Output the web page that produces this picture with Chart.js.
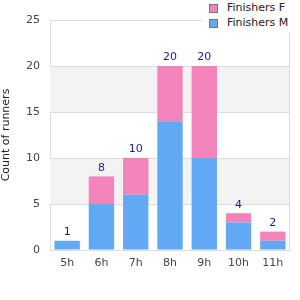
<!DOCTYPE html>
<html><head><meta charset="utf-8">
<script src="https://cdn.jsdelivr.net/npm/chart.js@4"></script>
<style>
html,body{margin:0;padding:0;background:#fff;}
#wrap{position:relative;width:300px;height:300px;}
#legend{position:absolute;left:202px;top:0;width:98px;height:33px;background:#fff;font-family:"DejaVu Sans";font-size:11px;color:#222;}
.item{position:absolute;left:7px;height:14px;line-height:14px;white-space:nowrap;}
.sw{position:absolute;left:0;top:3px;width:7px;height:7px;border:1px solid #777;}
.tx{position:absolute;left:18px;top:0;}
</style></head><body>
<div id="wrap"><canvas id="c" width="300" height="300"></canvas><div id="legend"></div></div>
<script>
const categories = ["5h","6h","7h","8h","9h","10h","11h"];
const finishersM = [1,5,6,14,10,3,1];
const finishersF = [0,3,4,6,10,1,1];
const totals = [1,8,10,20,20,4,2];
const yTicks = [0,5,10,15,20,25];
const bands = [[5,10],[15,20]];
const colM = "#62a9f4", colF = "#f383bb";

const leg = document.getElementById('legend');
[["Finishers F",colF],["Finishers M",colM]].forEach((d,i)=>{
  const it=document.createElement('div');it.className='item';it.style.top=(1+i*15)+'px';
  it.innerHTML='<span class="sw" style="background:'+d[1]+'"></span><span class="tx">'+d[0]+'</span>';
  leg.appendChild(it);
});

const bandPlugin={id:'bands',beforeDatasetsDraw(chart){
  const {ctx,chartArea:a,scales:{y}}=chart;ctx.save();ctx.fillStyle='#f3f3f3';
  bands.forEach(b=>{const t=y.getPixelForValue(b[1]),bt=y.getPixelForValue(b[0]);ctx.fillRect(a.left,t,a.right-a.left,bt-t);});
  ctx.strokeStyle='#dddddd';ctx.lineWidth=1;
  yTicks.forEach(v=>{const p=Math.round(y.getPixelForValue(v))+0.5;ctx.beginPath();ctx.moveTo(a.left,p);ctx.lineTo(a.right,p);ctx.stroke();});
  ctx.beginPath();ctx.moveTo(a.right-0.5,a.top);ctx.lineTo(a.right-0.5,a.bottom);ctx.stroke();
  ctx.restore();
}};
const labelPlugin={id:'tot',afterDatasetsDraw(chart){
  const {ctx}=chart;const m0=chart.getDatasetMeta(0),m1=chart.getDatasetMeta(1);
  ctx.save();ctx.fillStyle='#1a1a99';ctx.font='11px "DejaVu Sans"';ctx.textAlign='center';ctx.textBaseline='bottom';
  totals.forEach((t,i)=>{const e=m1.data[i];const e0=m0.data[i];const yy=Math.min(e.y,e0.y);ctx.fillText(String(t),e.x,yy-3);});
  ctx.restore();
}};

new Chart(document.getElementById('c'),{
  type:'bar',
  data:{labels:categories,datasets:[
    {label:'Finishers M',data:finishersM,backgroundColor:colM,stack:'s'},
    {label:'Finishers F',data:finishersF,backgroundColor:colF,stack:'s'}
  ]},
  options:{
    responsive:false,animation:false,
    layout:{padding:{top:20,right:10,left:0,bottom:0}},
    plugins:{legend:{display:false},tooltip:{enabled:false}},
    datasets:{bar:{categoryPercentage:1,barPercentage:0.74}},
    scales:{
      x:{stacked:true,grid:{display:false,drawTicks:false},border:{color:'#dddddd'},
        ticks:{color:'#444',font:{family:'DejaVu Sans',size:11},padding:7},
        afterFit(s){s.height=50;}},
      y:{stacked:true,min:0,max:25,
        afterBuildTicks(s){s.ticks=yTicks.map(v=>({value:v}));},
        grid:{color:'#dddddd',drawTicks:false},border:{color:'#dddddd'},
        ticks:{color:'#444',font:{family:'DejaVu Sans',size:11},padding:10},
        title:{display:true,text:'Count of runners',color:'#222',font:{family:'DejaVu Sans',size:11},padding:{top:0,bottom:0}},
        afterFit(s){s.width=50;}}
    }
  },
  plugins:[bandPlugin,labelPlugin]
});
</script></body></html>
